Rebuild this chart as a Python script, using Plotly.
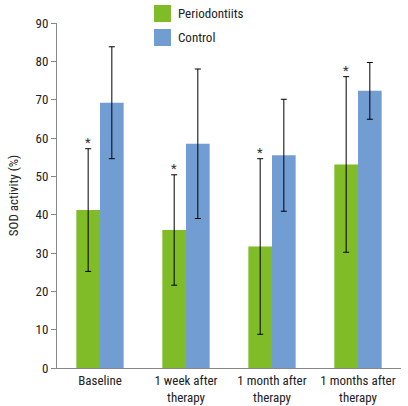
import plotly.graph_objects as go

categories = ["Baseline", "1 week after<br>therapy", "1 month after<br>therapy", "1 months after<br>therapy"]
perio = [41.2, 36.0, 31.7, 53.1]
perio_err = [16.0, 14.4, 22.9, 22.9]
control = [69.2, 58.5, 55.5, 72.3]
control_err = [14.6, 19.5, 14.6, 7.4]
y_ticks = [0, 10, 20, 30, 40, 50, 60, 70, 80, 90]
series_names = ["Periodontiits", "Control"]
series_colors = ["#7fbc27", "#729dd3"]

FONT = "Roboto Condensed, DejaVu Sans Condensed, Roboto, Arial"

fig = go.Figure()
fig.add_trace(go.Bar(
    x=categories, y=perio, name=series_names[0],
    marker=dict(color=series_colors[0], line=dict(width=0)),
    error_y=dict(type="data", array=perio_err, visible=True, color="black", thickness=1, width=3),
))
fig.add_trace(go.Bar(
    x=categories, y=control, name=series_names[1],
    marker=dict(color=series_colors[1], line=dict(width=0)),
    error_y=dict(type="data", array=control_err, visible=True, color="black", thickness=1, width=3),
))

for i, (v, e) in enumerate(zip(perio, perio_err)):
    fig.add_annotation(x=i, y=v + e, text="*", showarrow=False, xshift=-12,
                       yshift=6, font=dict(size=13, color="#333", family=FONT))

W, H = 408, 406
L, R, T, B = 57, 7, 23, 38
pw, ph = W - L - R, H - T - B
def px_x(x):
    return (x - L) / pw
def px_y(y):
    return (H - B - y) / ph
for k, (nm, col) in enumerate(zip(series_names, series_colors)):
    y0 = 5 + 24 * k
    fig.add_shape(type="rect", xref="paper", yref="paper",
                  x0=px_x(154), x1=px_x(171), y0=px_y(y0 + 17), y1=px_y(y0),
                  fillcolor=col, line=dict(width=0))
    fig.add_annotation(xref="paper", yref="paper", x=px_x(176), y=px_y(y0 + 8.5),
                       xanchor="left", yanchor="middle", text=nm, showarrow=False,
                       font=dict(size=13, family=FONT, color="#222"))

fig.update_layout(
    width=W, height=H,
    margin=dict(l=L, r=R, t=T, b=B),
    plot_bgcolor="white", paper_bgcolor="white",
    barmode="group", bargap=0.45, bargroupgap=0,
    font=dict(family=FONT, size=12, color="#222"),
    showlegend=False,
    yaxis=dict(range=[0, 90], tickvals=y_ticks, showgrid=False, zeroline=False,
               showline=True, linecolor="#888", linewidth=1, ticks="outside",
               ticklen=5, tickcolor="#888", tickfont=dict(size=13), automargin=False,
               title=dict(text="SOD activity (%)", font=dict(size=13), standoff=14)),
    xaxis=dict(showline=True, linecolor="#888", linewidth=1, showgrid=False,
               ticks="", tickfont=dict(size=13), range=[-0.5, 3.5], automargin=False),
)

fig.write_html("out.html", config={"displayModeBar": False},
               post_script="document.body.style.margin='0';document.body.style.overflow='hidden';")
